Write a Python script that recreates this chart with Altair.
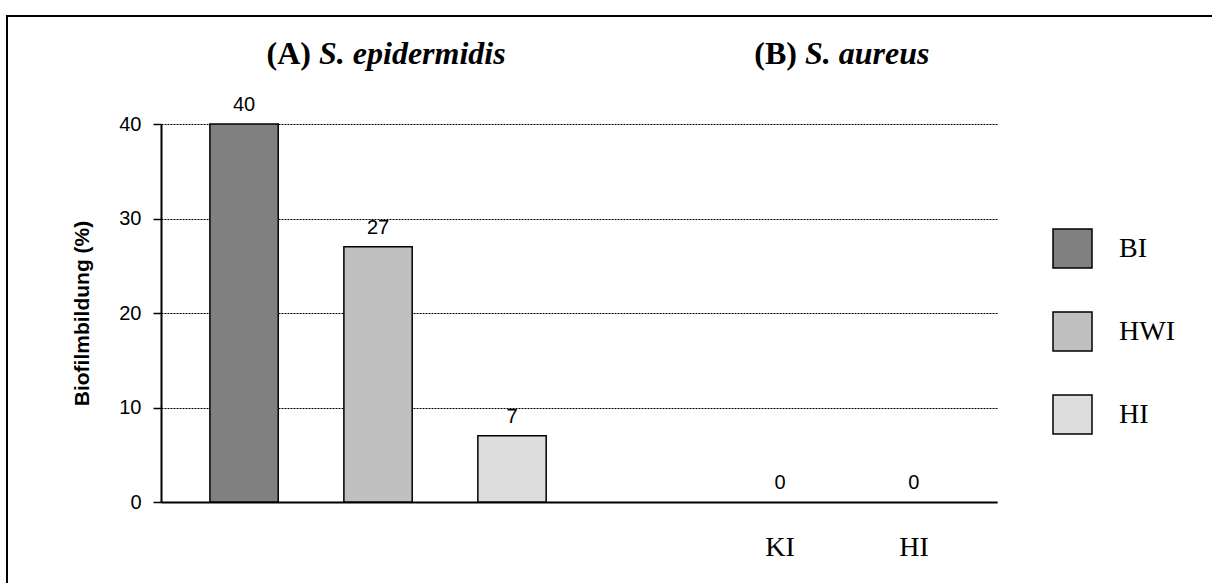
import altair as alt
import pandas as pd

# ---- data ----
slots = ["A-BI", "A-HWI", "A-HI", "gap", "B-KI", "B-HI"]
slot_labels = ["", "", "", "", "KI", "HI"]
groups = ["A", "A", "A", "", "B", "B"]
isolates = ["BI", "HWI", "HI", "", "KI", "HI"]
values = [40, 27, 7, None, 0, 0]

legend_cats = ["BI", "HWI", "HI"]
legend_colors = ["#808080", "#c0c0c0", "#dddddd"]

y_ticks = [0, 10, 20, 30, 40]
y_title = "Biofilmbildung (%)"
panel_tags = ["(A)", "(B)"]
panel_species = ["S. epidermidis", "S. aureus"]

df = pd.DataFrame({
    "slot": slots,
    "label": slot_labels,
    "group": groups,
    "isolate": isolates,
    "value": values,
})
one = pd.DataFrame({"k": [0]})

W, H = 836, 378

label_expr = " : ".join(
    [f"datum.value == '{s}' ? '{l}'" for s, l in zip(slots, slot_labels) if l]
) + " : ''"

x_enc = alt.X(
    "slot:N",
    sort=slots,
    scale=alt.Scale(domain=slots, paddingInner=0.49, paddingOuter=0.365),
    axis=alt.Axis(
        title=None, labelExpr=label_expr, ticks=False, tickSize=0, labelAngle=0,
        labelFont="Liberation Serif", labelFontSize=28, labelColor="black",
        labelPadding=31, domainColor="black", domainWidth=2, grid=False,
    ),
)
y_scale = alt.Scale(domain=[0, 40], nice=False)

border = alt.Chart(one).mark_rect(filled=False, stroke="black", strokeWidth=2).encode(
    x=alt.value(-154), x2=alt.value(1212 - 161 + 30),
    y=alt.value(-108), y2=alt.value(583 - 124 + 30),
)

bars = alt.Chart(df).transform_filter("datum.group == 'A'").mark_bar(
    stroke="black", strokeWidth=1.5
).encode(
    x=x_enc,
    y=alt.Y(
        "value:Q", scale=y_scale,
        axis=alt.Axis(
            values=y_ticks, title=y_title, grid=True, gridColor="black",
            gridDash=[2, 1], gridWidth=1, domainColor="black", domainWidth=2,
            tickColor="black", tickSize=8, tickWidth=1.5,
            labelFont="Liberation Sans", labelFontSize=20, labelColor="black",
            labelPadding=12, titleFont="Liberation Sans", titleFontSize=21,
            titleFontWeight="bold", titleColor="black", titleX=-79, titleY=H / 2,
            titleAngle=270, titleAlign="center", titleBaseline="middle",
        ),
    ),
    fill=alt.Fill(
        "isolate:N",
        scale=alt.Scale(domain=legend_cats, range=legend_colors),
        legend=alt.Legend(
            title=None, orient="none", legendX=891, legendY=104,
            symbolType="square", symbolSize=1521, symbolStrokeColor="black",
            symbolStrokeWidth=1.5, symbolOpacity=1, labelFont="Liberation Serif",
            labelFontSize=28, labelColor="black", labelOffset=26, rowPadding=38,
            padding=0,
        ),
    ),
)

labels = alt.Chart(df).transform_filter("isValid(datum.value)").mark_text(
    font="Liberation Sans", fontSize=20, baseline="alphabetic", dy=-13, color="black"
).encode(
    x=x_enc,
    y=alt.Y("value:Q", scale=y_scale),
    text=alt.Text("value:Q"),
)

def title_part(txt, x, align, italic):
    return alt.Chart(one).mark_text(
        text=txt, font="Liberation Serif", fontSize=32, fontWeight="bold",
        fontStyle="italic" if italic else "normal", align=align,
        baseline="alphabetic", color="black",
    ).encode(x=alt.value(x), y=alt.value(-60))

titles = [
    title_part(panel_tags[0], 150, "right", False),
    title_part(panel_species[0], 158, "left", True),
    title_part(panel_tags[1], 636, "right", False),
    title_part(panel_species[1], 644, "left", True),
]

chart = alt.layer(border, bars, labels, *titles).properties(
    width=W, height=H,
    autosize=alt.AutoSizeParams(type="none"),
    padding={"left": 161, "top": 124, "right": 215, "bottom": 81},
    background="white",
).configure_view(strokeWidth=0)

chart.save("out.html", embed_options={"renderer": "svg", "actions": False})
